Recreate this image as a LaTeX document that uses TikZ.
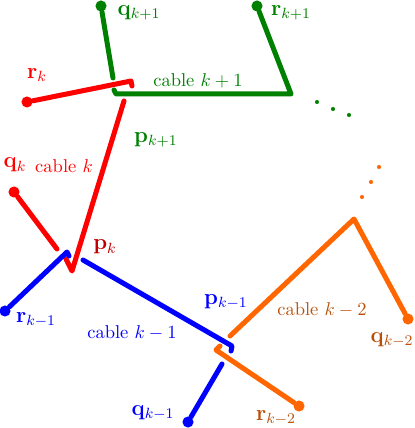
\documentclass[tikz,border=0pt]{standalone}
\definecolor{cablegreen}{rgb}{0,0.5,0}
\definecolor{cableorange}{RGB}{255,102,0}
\definecolor{darkorange}{RGB}{185,80,10}
\begin{document}
\begin{tikzpicture}[x=0.54pt, y=-0.54pt,
    endpoint/.style ={circle, fill, inner sep=0pt, minimum size=6pt},
    dotmark/.style ={circle, fill, inner sep=0pt, minimum size=2.2pt},
    cable/.style ={line width=2.7pt, line cap=round, line join=round},
    tag/.style ={font=\large, inner sep=0pt}]
   \useasboundingbox (0,0) rectangle (414,428);
   % cable k+1
   \node[endpoint, cablegreen] (qkp) at (101,6) {};
   \node[endpoint, cablegreen] (rkp) at (257,6) {};
   \coordinate (qkpend) at (113,78);
   \coordinate (pkphook) at (114,90);
   \coordinate (pkp) at (116,94);
   \coordinate (bendkp) at (291,94);
   \draw[cable, cablegreen] (qkp) -- (qkpend);
   \draw[cable, cablegreen] (pkphook) -- (pkp) -- (bendkp) -- (rkp);
   \node[tag, cablegreen] (lqkp) at (139,13) {$\mathbf{q}_{k+1}$};
   \node[tag, cablegreen] (lrkp) at (291,13) {$\mathbf{r}_{k+1}$};
   \node[cablegreen, inner sep=0pt] (ckp) at (198,81) {cable $k+1$};
   \node[tag, cablegreen] (lpkp) at (156,140) {$\mathbf{p}_{k+1}$};
   \node[dotmark, cablegreen] (g1) at (317,102) {};
   \node[dotmark, cablegreen] (g2) at (333,109) {};
   \node[dotmark, cablegreen] (g3) at (349,115) {};
   % cable k
   \node[endpoint, red] (rk) at (27,102) {};
   \node[endpoint, red] (qk) at (14,192) {};
   \coordinate (rkbend) at (131,81);
   \coordinate (rkhook) at (132,86);
   \coordinate (pkptop) at (124,101);
   \coordinate (pk) at (72,271);
   \coordinate (pkhook) at (66,259);
   \coordinate (qkend) at (57,249);
   \draw[cable, red] (rk) -- (rkbend) -- (rkhook);
   \draw[cable, red] (pkptop) -- (pk) -- (pkhook);
   \draw[cable, red] (qk) -- (qkend);
   \node[tag, red] (lrk) at (37,75) {$\mathbf{r}_k$};
   \node[tag, red] (lqk) at (15,165) {$\mathbf{q}_k$};
   \node[red, inner sep=0pt] (ck) at (64,166) {cable $k$};
   \node[tag, red!75!black] (lpk) at (105,247) {$\mathbf{p}_k$};
   % cable k-1
   \node[endpoint, blue] (rkm) at (5,311) {};
   \node[endpoint, blue] (qkm) at (188,422) {};
   \coordinate (rkmbend) at (67,252);
   \coordinate (rkmhook) at (69,256);
   \coordinate (pkstart) at (83,260);
   \coordinate (pkm) at (232,346);
   \coordinate (pkmhook) at (231,351);
   \coordinate (qkmend) at (222,364);
   \draw[cable, blue] (rkm) -- (rkmbend) -- (rkmhook);
   \draw[cable, blue] (pkstart) -- (pkm) -- (pkmhook);
   \draw[cable, blue] (qkm) -- (qkmend);
   \node[tag, blue] (lrkm) at (36,320) {$\mathbf{r}_{k-1}$};
   \node[blue, inner sep=0pt] (ckm) at (132,333) {cable $k-1$};
   \node[tag, blue] (lpkm) at (226,302) {$\mathbf{p}_{k-1}$};
   \node[tag, blue] (lqkm) at (153,413) {$\mathbf{q}_{k-1}$};
   % cable k-2
   \node[endpoint, cableorange] (qkmm) at (408,319) {};
   \node[endpoint, cableorange] (rkmm) at (299,406) {};
   \coordinate (pkmtop) at (230,336);
   \coordinate (bendkmm) at (354,219);
   \coordinate (pkmmhook) at (220,346);
   \coordinate (pkmm) at (216,350);
   \draw[cable, cableorange] (pkmtop) -- (bendkmm) -- (qkmm);
   \draw[cable, cableorange] (pkmmhook) -- (pkmm) -- (rkmm);
   \node[darkorange, inner sep=0pt] (ckmm) at (322,310) {cable $k-2$};
   \node[tag, darkorange] (lqkmm) at (392,340) {$\mathbf{q}_{k-2}$};
   \node[tag, darkorange] (lrkmm) at (276,418) {$\mathbf{r}_{k-2}$};
   \node[dotmark, cableorange] (o1) at (362,197) {};
   \node[dotmark, cableorange] (o2) at (371,182) {};
   \node[dotmark, cableorange] (o3) at (379,167) {};
\end{tikzpicture}
\end{document}
